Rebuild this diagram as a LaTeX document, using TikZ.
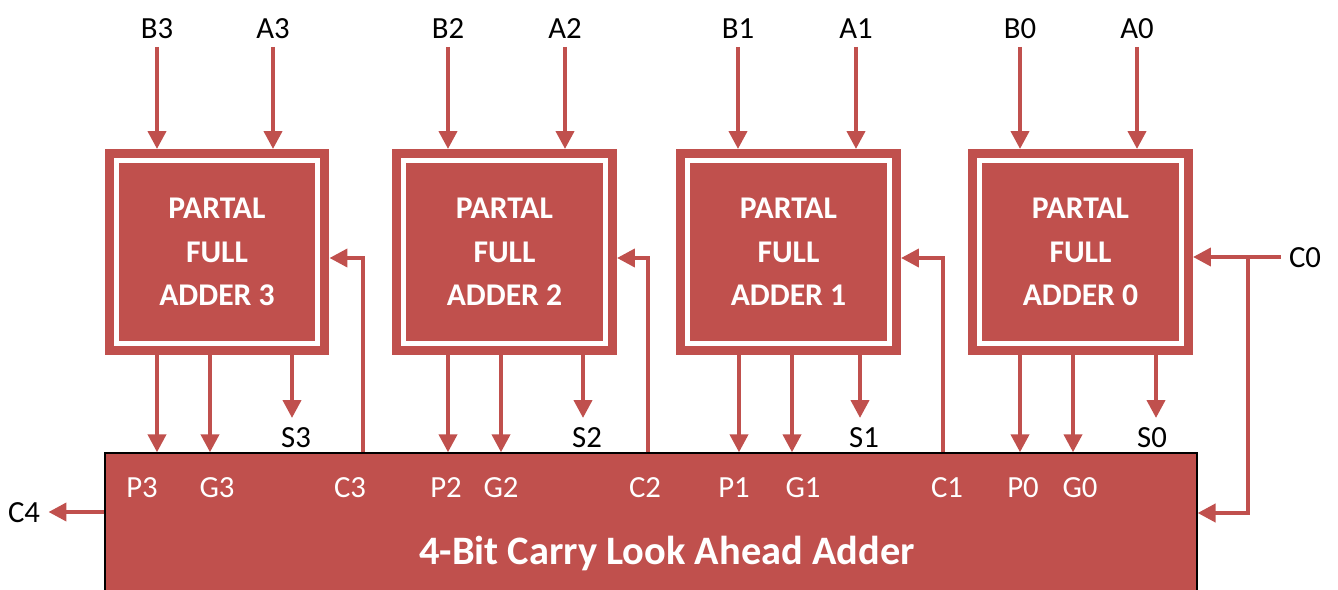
\documentclass[tikz,border=0pt]{standalone}
\usepackage{fontspec}
\setmainfont{Carlito}
\usetikzlibrary{arrows.meta}
\definecolor{adred}{HTML}{C0504D}
\tikzset{
  wire/.style={draw=adred, line width=0.08cm, -{Triangle[length=0.36cm,width=0.36cm]}},
  pfa/.style={fill=adred, draw=adred, double=white, line width=0.18cm, double distance=0.1cm,
    minimum width=4.04cm, minimum height=3.66cm, inner sep=0pt, outer sep=0.23cm,
    text=white, align=center, font=\bfseries\fontsize{18}{24.7}\selectfont},
  cla/.style={fill=adred, draw=black, line width=0.8pt, minimum width=21.84cm, minimum height=3.74cm},
  sig/.style={inner sep=0pt, outer sep=0.17cm, text height=0.42cm, text depth=0cm,
    font=\fontsize{17.5}{20}\selectfont},
  csig/.style={sig, text=white},
}

\begin{document}
\begin{tikzpicture}[x=0.02cm, y=-0.02cm]
			\useasboundingbox (0,0) rectangle (1338,590);
			\clip (0,0) rectangle (1338,590);
			%%%%% CARRY LOOK AHEAD %%%%%
			\node[cla] (cla) at (651,546.5) {};
			\node[text=white, font=\bfseries\fontsize{23}{28}\selectfont] (cla-title) at (667,553) {4-Bit Carry Look Ahead Adder};
			\node[csig] (cp3) at (142,487) {P3};
			\node[csig] (cg3) at (217,487) {G3};
			\node[csig] (cc3) at (350,487) {C3};
			\node[csig] (cp2) at (446,487) {P2};
			\node[csig] (cg2) at (501,487) {G2};
			\node[csig] (cc2) at (645,487) {C2};
			\node[csig] (cp1) at (734,487) {P1};
			\node[csig] (cg1) at (803,487) {G1};
			\node[csig] (cc1) at (947,487) {C1};
			\node[csig] (cp0) at (1023,487) {P0};
			\node[csig] (cg0) at (1080,487) {G0};
			
			%%%%% PARTIAL FULL ADDERS %%%%%
			\node[pfa] (fa3) at (217,252) {PARTAL\\FULL\\ADDER 3};
			\node[pfa] (fa2) at (504.5,252) {PARTAL\\FULL\\ADDER 2};
			\node[pfa] (fa1) at (788.5,252) {PARTAL\\FULL\\ADDER 1};
			\node[pfa] (fa0) at (1080.5,252) {PARTAL\\FULL\\ADDER 0};
			
			%%%%% INPUTS %%%%%
			\node[sig] (b3) at (157,28) {B3};
			\node[sig] (a3) at (273,28) {A3};
			\node[sig] (b2) at (448,28) {B2};
			\node[sig] (a2) at (565,28) {A2};
			\node[sig] (b1) at (738,28) {B1};
			\node[sig] (a1) at (856,28) {A1};
			\node[sig] (b0) at (1020,28) {B0};
			\node[sig] (a0) at (1137,28) {A0};
			\draw[wire] (b3) -- (b3 |- fa3.north);
			\draw[wire] (a3) -- (a3 |- fa3.north);
			\draw[wire] (b2) -- (b2 |- fa2.north);
			\draw[wire] (a2) -- (a2 |- fa2.north);
			\draw[wire] (b1) -- (b1 |- fa1.north);
			\draw[wire] (a1) -- (a1 |- fa1.north);
			\draw[wire] (b0) -- (b0 |- fa0.north);
			\draw[wire] (a0) -- (a0 |- fa0.north);
			
			%%%%% SUMS %%%%%
			\node[sig] (s3) at (296,437) {S3};
			\node[sig] (s2) at (587,437) {S2};
			\node[sig] (s1) at (864,437) {S1};
			\node[sig] (s0) at (1152,437) {S0};
			\draw[wire] (292,0 |- fa3.south) -- (292,0 |- s3.north);
			\draw[wire] (583,0 |- fa2.south) -- (583,0 |- s2.north);
			\draw[wire] (860,0 |- fa1.south) -- (860,0 |- s1.north);
			\draw[wire] (1156,0 |- fa0.south) -- (1156,0 |- s0.north);
			
			%%%%% PROPAGATE / GENERATE %%%%%
			\draw[wire] (157,0 |- fa3.south) -- (157,0 |- cla.north);
			\draw[wire] (210,0 |- fa3.south) -- (210,0 |- cla.north);
			\draw[wire] (448,0 |- fa2.south) -- (448,0 |- cla.north);
			\draw[wire] (501,0 |- fa2.south) -- (501,0 |- cla.north);
			\draw[wire] (739,0 |- fa1.south) -- (739,0 |- cla.north);
			\draw[wire] (792,0 |- fa1.south) -- (792,0 |- cla.north);
			\draw[wire] (1020,0 |- fa0.south) -- (1020,0 |- cla.north);
			\draw[wire] (1073,0 |- fa0.south) -- (1073,0 |- cla.north);
			
			%%%%% CARRIES %%%%%
			\draw[wire] (363,0 |- cla.north) |- (fa3.east |- 0,258);
			\draw[wire] (648,0 |- cla.north) |- (fa2.east |- 0,258);
			\draw[wire] (943,0 |- cla.north) |- (fa1.east |- 0,258);
			
			\node[sig] (c0) at (1305,257) {C0};
			\draw[wire] (c0) -- (c0 -| fa0.east);
			\coordinate (c0tap) at (1248,257);
			\draw[wire] (c0tap) |- (cla.east |- 0,513);
			
			\node[sig] (c4) at (24,512) {C4};
			\draw[wire] (cla.west |- c4) -- (c4);
		\end{tikzpicture}
\end{document}
